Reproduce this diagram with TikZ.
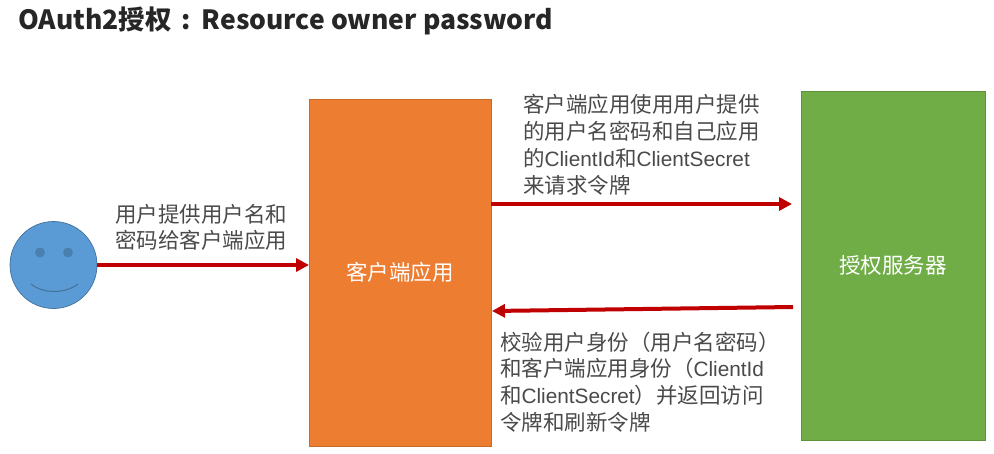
\documentclass[tikz,border=0pt]{standalone}
\usepackage{fontspec}
\setmainfont{Noto Sans CJK SC}
\newfontfamily\latfam{Liberation Sans}
\newcommand{\lat}[1]{{\latfam\fontsize{20.8}{27}\selectfont #1}}
\usetikzlibrary{arrows.meta}
\definecolor{txtgray}{HTML}{4A4A4A}
\definecolor{redline}{HTML}{C00000}
\definecolor{faceblue}{HTML}{5B9BD5}
\definecolor{faceedge}{HTML}{41719C}
\definecolor{eyeblue}{HTML}{4A80B0}
\definecolor{boxorange}{HTML}{ED7D31}
\definecolor{boxgreen}{HTML}{70AD47}
\tikzset{
  every node/.style={inner sep=0pt,outer sep=0pt},
  box/.style={draw=#1!85!black,line width=.6pt,fill=#1,anchor=north west},
  boxlabel/.style={text=white,font=\fontsize{21.5}{26}\selectfont},
  note/.style={text=txtgray,align=left,anchor=north west,font=\fontsize{21.5}{26.7}\selectfont},
  flow/.style={draw=redline,line width=4pt,-{Triangle[length=13pt,width=13pt]},shorten >=0pt},
}
\begin{document}
\begin{tikzpicture}[x=1pt,y=-1pt]
\useasboundingbox (0,0) rectangle (994,453);
\fill[white] (0,0) rectangle (994,453);
\node[anchor=west,text=black!85,font=\fontsize{26.5}{30}\selectfont\bfseries] (title) at (18,21) {OAuth2授权\hspace{10pt}:\hspace{11pt}Resource owner password};

\node[circle,draw=faceedge,line width=.7pt,fill=faceblue,minimum size=87pt] (face) at (53.5,265) {};
\node[circle,fill=eyeblue,minimum size=10pt] (eyeL) at (40,252.5) {};
\node[circle,fill=eyeblue,minimum size=10pt] (eyeR) at (68,252.5) {};
\draw[faceedge,line width=1pt] (31,284) .. controls (43,294) and (65,294) .. (78,284);

\node[box=boxorange,minimum width=182pt,minimum height=347pt] (client) at (309,99) {};
\node[boxlabel] (clientlabel) at (client.center) {客户端应用};
\node[box=boxgreen,minimum width=184pt,minimum height=349pt] (server) at (801,91) {};
\node[boxlabel] (serverlabel) at (server.center) {授权服务器};

\node[note] (n1) at (115,204) {用户提供用户名和\\密码给客户端应用};
\node[note] (n2) at (523,94.7) {客户端应用使用用户提供\\的用户名密码和自己应用\\的\lat{ClientId}和\lat{ClientSecret}\\来请求令牌};
\node[note] (n3) at (500,331.6) {校验用户身份（用户名密码）\\和客户端应用身份（\lat{ClientId}\\和\lat{ClientSecret}）并返回访问\\令牌和刷新令牌};

\coordinate (a1) at (client.west |- face.east);
\coordinate (s2) at (client.east |- 0,204);
\coordinate (t2) at (792,204);
\coordinate (s3) at (793,307);
\coordinate (t3) at (492,311);
\draw[flow] (face.east) -- (a1);
\draw[flow] (s2) -- (t2);
\draw[flow] (s3) -- (t3);
\end{tikzpicture}
\end{document}
